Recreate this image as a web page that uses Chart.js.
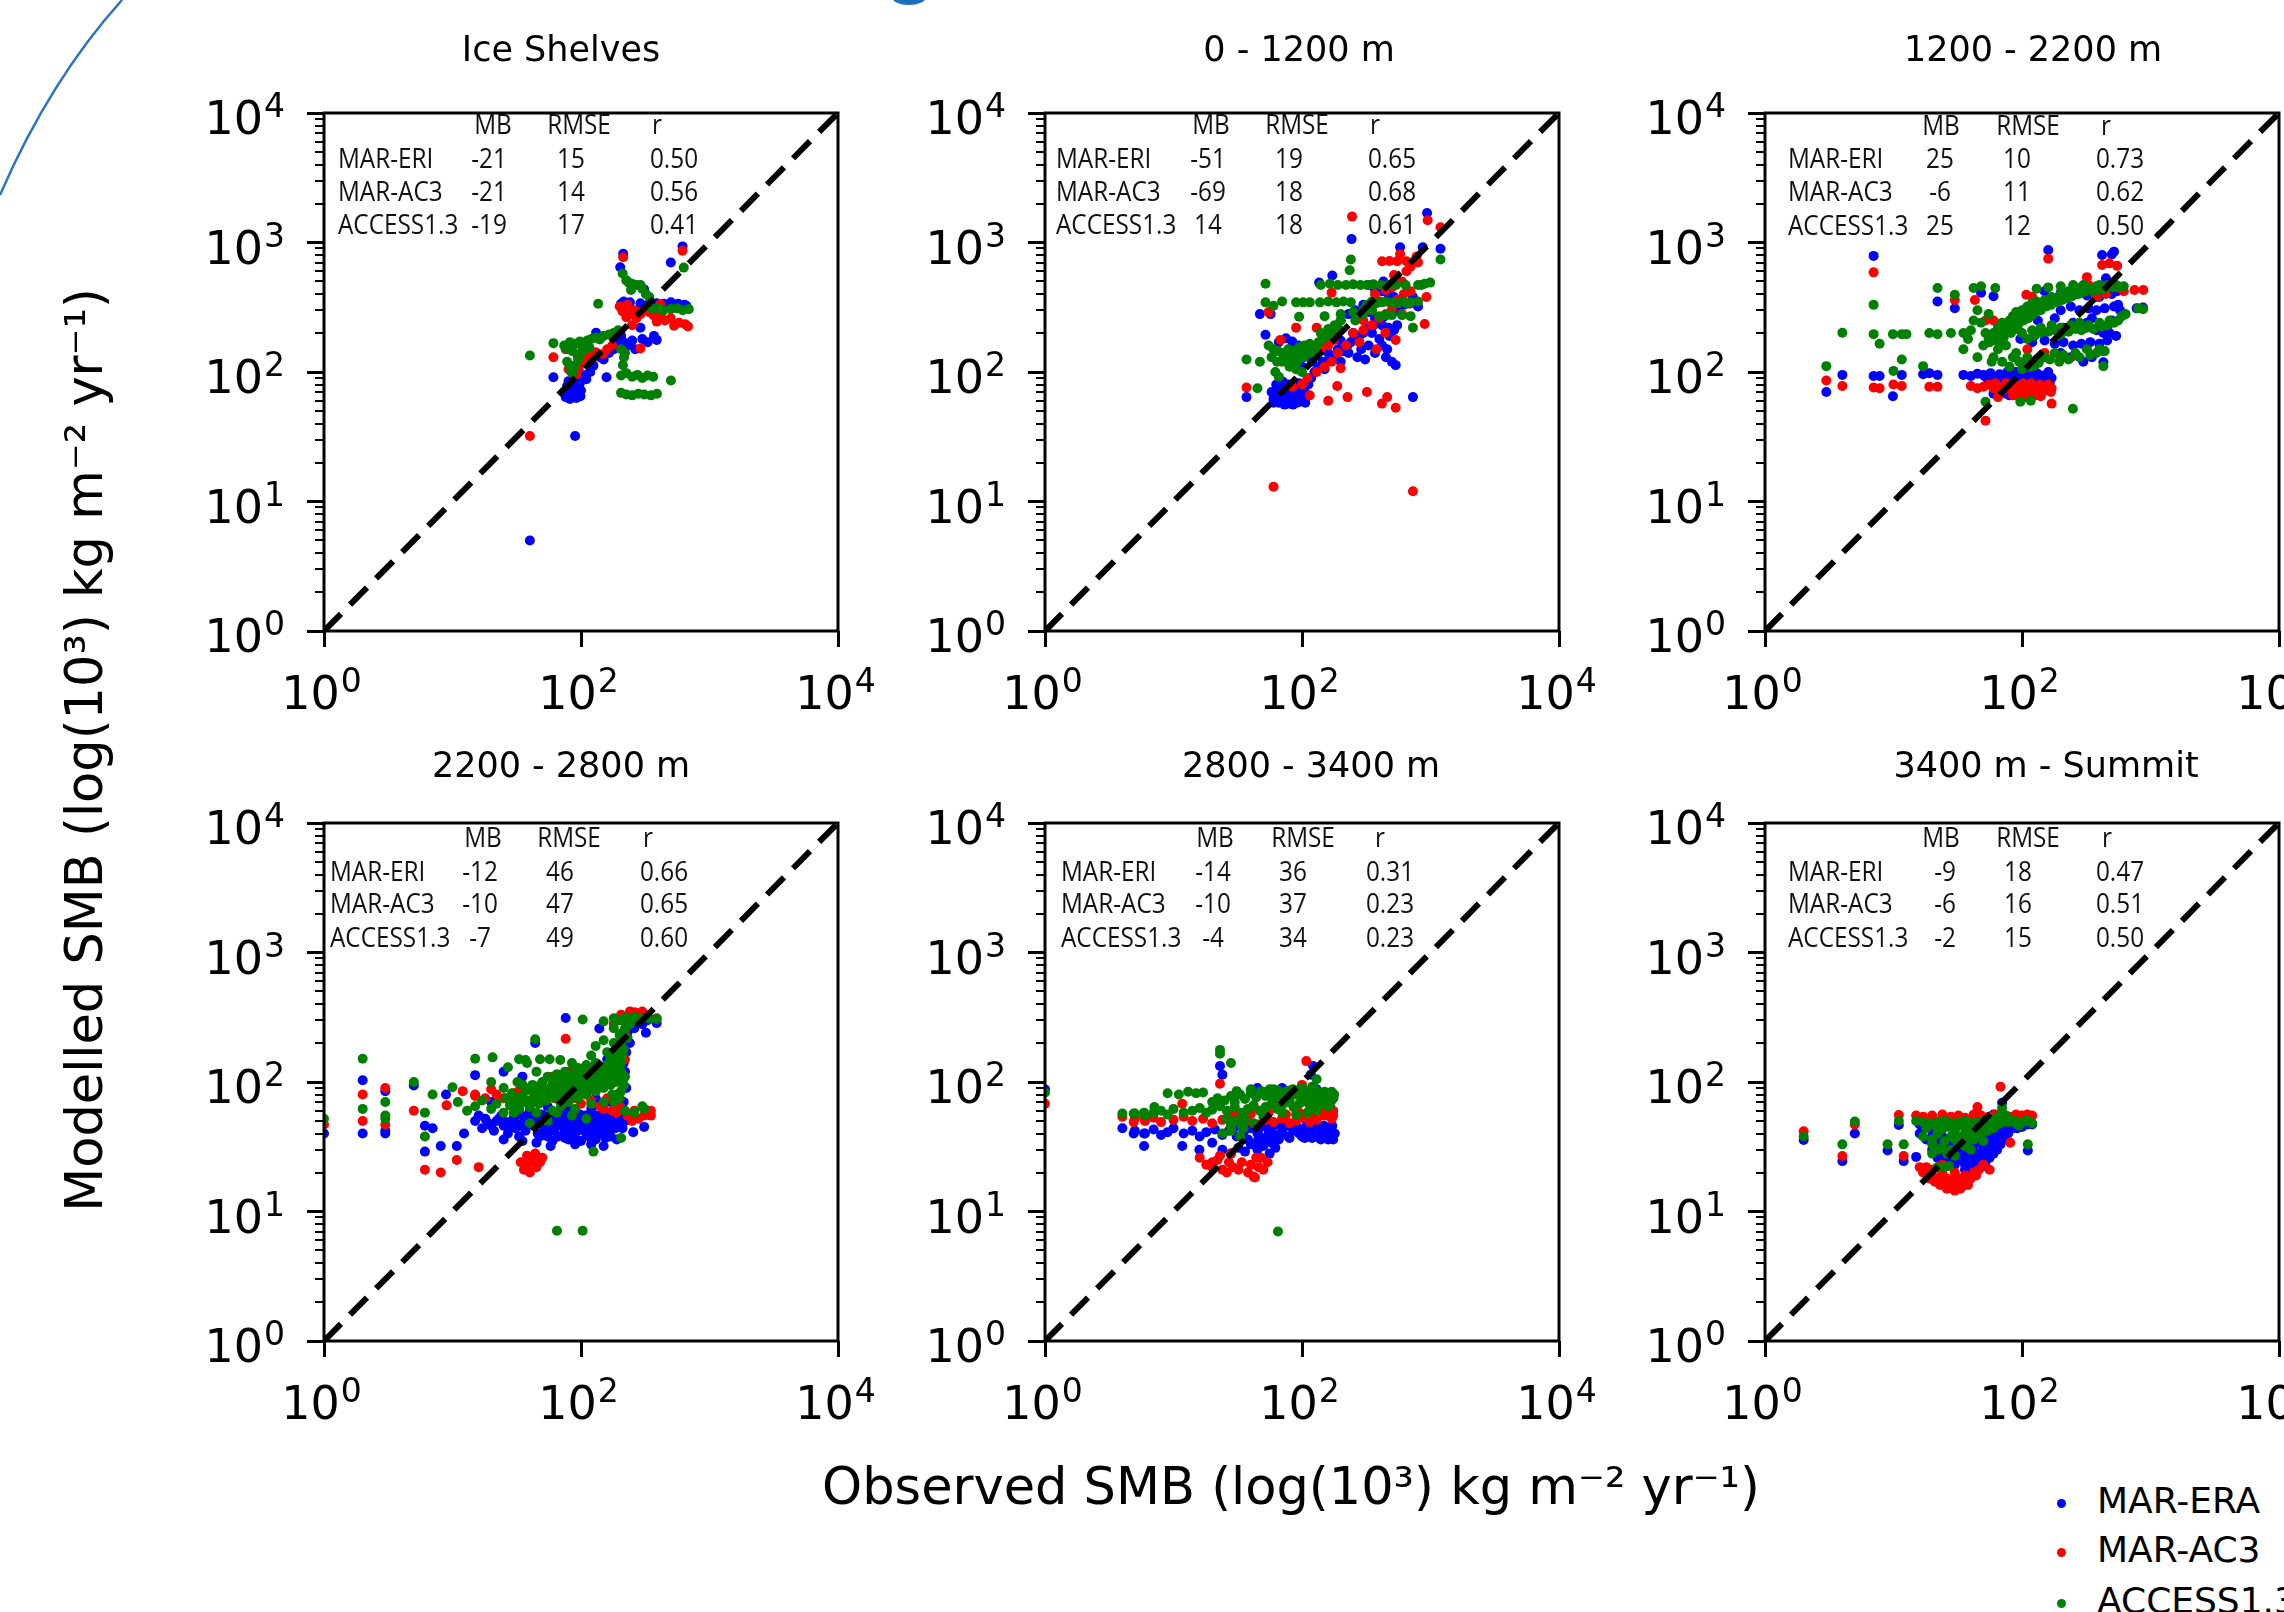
<!DOCTYPE html>
<html>
<head>
<meta charset="utf-8">
<script src="https://cdn.jsdelivr.net/npm/chart.js@4.4.1/dist/chart.umd.min.js"></script>
<style>
  body { margin: 0; width: 2284px; height: 1612px; overflow: hidden; background: #fff; position: relative; font-family: 'DejaVu Sans', sans-serif; }
  canvas { position: absolute; }
  #deco { position: absolute; left: 0; top: 0; }
  .axis-title { position: absolute; white-space: nowrap; font-size: 51px; color: #000; }
  #ytitle { left: 84px; top: 750px; transform: translate(-50%, -50%) rotate(-90deg); }
  #xtitle { left: 1291px; top: 1486px; transform: translate(-50%, -50%); }
  .leg { position: absolute; left: 2057px; font-size: 36px; white-space: nowrap; line-height: 40px; }
  .leg span { display: inline-block; width: 9px; height: 9px; border-radius: 50%; margin-right: 31px; vertical-align: middle; }
</style>
</head>
<body>
<svg id="deco" width="2284" height="1612">
  <path d="M122,0 Q50,80 0,195" stroke="#2a74c5" stroke-width="2.5" fill="none"/>
  <ellipse cx="909" cy="-3" rx="17" ry="8" fill="#1a6fc0"/>
</svg>
<div class="axis-title" id="ytitle">Modelled SMB (log(10³) kg m⁻² yr⁻¹)</div>
<div class="axis-title" id="xtitle">Observed SMB (log(10³) kg m⁻² yr⁻¹)</div>
<div id="legend"></div>

<canvas id="p0"></canvas>
<canvas id="p1"></canvas>
<canvas id="p2"></canvas>
<canvas id="p3"></canvas>
<canvas id="p4"></canvas>
<canvas id="p5"></canvas>

<script>
// ---- data (observed, modelled) ----
const seriesNames = ['MAR-ERA', 'MAR-AC3', 'ACCESS1.3'];
const seriesColors = ['#0000ff', '#ff0000', '#008000'];
const panelTitles = ['Ice Shelves', '0 - 1200 m', '1200 - 2200 m', '2200 - 2800 m', '2800 - 3400 m', '3400 m - Summit'];
const xTickValues = [1, 100, 10000];
const yTickValues = [1, 10, 100, 1000, 10000];

const statModels = ['MAR-ERI', 'MAR-AC3', 'ACCESS1.3'];
const statMB = [[-21, -21, -19], [-51, -69, 14], [25, -6, 25], [-12, -10, -7], [-14, -10, -4], [-9, -6, -2]];
const statRMSE = [[15, 14, 17], [19, 18, 18], [10, 11, 12], [46, 47, 49], [36, 37, 34], [18, 16, 15]];
const statR = [['0.50', '0.56', '0.41'], ['0.65', '0.68', '0.61'], ['0.73', '0.62', '0.50'],
               ['0.66', '0.65', '0.60'], ['0.31', '0.23', '0.23'], ['0.47', '0.51', '0.50']];

const iceShelvesEra = [[40,5],[90,32],[61,91],[158,91],
  [74,70],[76,64],[78,78],[80,68],[82,62],[84,74],[86,66],[88,80],[90,70],[92,63],[94,76],[96,68],[98,82],[100,72],[80,85],[88,90],[96,88],[104,95],[110,88],[118,100],[125,112],
  [77,72],[83,70],[91,66],[95,73],[87,72],[79,65],[99,65],
  [131,201],[140,130],[150,125],[165,140],[180,150],[195,165],[205,190],[215,170],[233,160],[250,175],[264,150],[290,220],[300,180],[330,170],[370,190],[388,177],
  [205,337],[215,350],[240,345],[264,297],[290,340],[310,436],[341,337],[388,340],[441,337],[501,345],[570,337],[640,330],[660,325],
  [202,645],[213,820],[500,700],[617,933]];
const iceShelvesAc3 = [[40,32],[61,130],[76,150],[80,105],[84,100],[88,112],[92,96],[96,108],[100,120],[104,135],[110,130],[118,138],[130,142],[148,138],[160,150],[175,160],
  [210,295],[225,265],[240,280],[260,300],[290,280],[320,300],[366,275],[388,245],[414,334],[450,250],[500,260],[530,228],[580,240],[647,234],[680,225],
  [290,152],[250,230],[213,770],[617,864],[230,330],[200,320],[270,260],[340,290],[420,270]];
const iceShelvesAccess = [[40,134],[61,167],[74,160],[78,150],[82,170],[86,145],[90,165],[94,135],[98,172],[102,158],[106,168],[112,175],[120,180],[130,185],[140,178],[150,190],[165,195],[180,200],[195,210],
  [78,120],[82,108],[86,98],[90,112],[95,125],[100,140],[108,150],[116,155],
  [136,337],[205,150],[212,113],[216,130],[220,140],
  [205,94],[225,98],[250,92],[275,95],[300,90],[330,94],[365,92],[501,86],
  [205,69],[225,67],[250,66],[280,68],[310,67],[350,66],[390,68],
  [211,576],[225,510],[235,490],[250,480],[270,470],[290,470],[300,440],[245,430],[320,400],[340,380],
  [360,306],[400,312],[440,300],[500,306],[560,310],[620,300],[690,306],[630,640]];

const lowEra = [[37,64],[47,280],[57,280],[52,194],
  [58,70],[60,62],[63,66],[66,58],[69,72],[72,63],[75,68],[78,57],[81,65],[84,60],[88,70],[92,58],[96,66],[100,62],[104,72],[108,64],[66,76],[74,78],[86,75],
  [60,58],[62,68],[64,74],[67,61],[70,66],[73,56],[76,72],[79,62],[82,70],[85,56],[87,64],[90,74],[93,66],[97,60],[99,76],[102,68],[106,58],[63,80],[71,84],[79,80],[95,82],[112,80],
  [66,170],[75,182],[84,172],[94,160],[104,150],[80,150],[90,140],[110,135],[120,120],[100,110],
  [118,90],[125,100],[135,110],[145,120],[150,105],[165,125],[190,150],[210,145],[240,170],[250,200],[280,190],[300,200],[320,220],[360,230],[400,250],[440,270],[500,280],[560,300],[620,330],[550,230],[480,190],[420,160],[450,130],[500,120],
  [138,170],[156,190],[177,205],[200,175],[226,160],[255,180],[289,150],[160,140],[180,130],[200,120],[230,140],[270,130],[310,125],[330,160],[370,140],
  [172,556],[136,490],[200,250],[230,280],[260,300],[300,330],[330,290],[370,260],[420,230],[470,220],[520,210],[350,200],[400,180],[460,150],[536,113],
  [370,430],[420,420],[470,400],[520,380],[600,360],[700,340],[800,320],[730,380],[330,470],[430,500],
  [730,64],[243,1062],[580,920],[870,920],[940,1690],[1196,895]];
const lowAc3 = [[245,1585],[950,1487],[1196,1310],[580,813],[420,716],[480,720],[550,716],[650,716],[780,780],[930,380],[900,235],
  [37,76],[60,13],[730,12],[160,60],[226,64],[320,70],[419,57],[460,64],[536,53],[84,77],[115,66],[188,78],[200,107],
  [90,220],[130,220],[68,177],[177,177],[445,201],[536,177],[170,410],[370,400],[686,337],[55,290],
  [140,150],[160,160],[250,200],[300,250],[350,300],[400,350],[500,300],[600,280],[280,170],[380,150],
  [100,80],[110,90],[130,100],[150,110],[170,120],[190,140],[220,160],[300,210],[350,230],[400,260],[450,280],[500,330],[550,360],[620,400],[700,420],[600,500],[520,560],[650,600],[700,650],[800,700],[500,450],[450,430]];
const lowAccess = [[37,125],[47,120],[52,480],[52,345],[60,325],[70,350],[90,345],[102,345],[115,345],[95,267],
  [140,470],[165,480],[190,470],[220,470],[250,475],[285,470],[320,470],[360,475],[410,470],[470,470],[540,470],[640,470],[800,470],[850,470],[900,480],
  [138,345],[160,350],[185,345],[210,350],[240,345],[300,300],[320,330],[350,350],[380,340],[420,345],[450,350],[500,345],[560,340],[610,350],[650,340],[700,345],[800,350],
  [240,739],[235,610],[1196,739],[994,490],
  [150,270],[200,280],[250,290],[300,280],[350,300],[400,270],[450,275],[500,275],[600,275],[700,270],[730,220],[260,250],
  [55,160],[60,150],[65,145],[70,140],[78,150],[85,145],[95,155],[105,160],[115,165],[125,150],[70,120],[80,110],[90,105],[100,100],[62,100],[66,92],[45,75],
  [58,130],[64,120],[72,128],[76,138],[82,125],[88,132],[92,120],[98,140],[104,130],[110,145],[118,140],[128,155],[135,170],[145,180],[155,190],[165,200],[175,210],[190,220],
  [140,200],[160,215],[180,230],[200,250]];

const midEra = [[3,70],[4,95],[7,788],[7,93],[7.8,93],[9.9,65],[11.6,95],[17,96],[19,98],[22,95],[30,311],[22,350],
  [35,95],[40,93],[45,97],[50,95],
  [55,85],[60,90],[65,80],[70,75],[75,85],[80,95],[90,90],[100,88],[110,85],[120,90],[135,80],[150,88],[170,90],[60,68],[70,70],[80,66],[100,68],[120,66],[140,68],[90,100],[110,102],[130,98],[160,100],
  [52,92],[57,98],[62,88],[67,96],[72,90],[77,100],[83,86],[88,95],[94,82],[98,92],[104,98],[112,92],[118,80],[125,96],[132,88],[140,94],[148,84],[158,96],[165,84],[65,72],[75,68],[85,74],[95,70],[110,72],[130,70],[150,76],[165,72],
  [48,410],[60,385],
  [97,180],[120,170],[150,175],[180,165],[210,170],[250,160],[290,165],[340,170],[400,165],[460,175],
  [133,250],[180,260],[250,240],[350,260],[500,250],
  [150,420],[200,410],[260,400],[320,390],[400,380],[500,400],[550,420],
  [200,300],[240,320],[280,300],[330,310],[380,300],[440,310],[520,320],[560,330],[210,220],[260,230],[320,240],[380,210],[430,200],[480,200],[540,190],[200,140],[240,130],[300,120],[350,130],
  [160,874],[420,800],[500,810],[520,850],[450,530],[580,300],[780,310],[875,315],[430,119],[467,230]];
const midAc3 = [[3,86],[4,78],[7,588],[7,76],[7.8,75],[10,80],[11.6,78],[19,77],[22,77],[30,360],[43,360],[52,250],[60,250],[52,42],[170,57],
  [60,75],[70,72],[80,78],[90,72],[100,75],[115,70],[130,78],[150,72],[170,75],[65,64],[85,66],[105,64],[125,66],[145,70],[40,78],[45,75],[50,77],
  [55,80],[62,82],[68,76],[75,82],[82,74],[88,80],[95,78],[102,82],[110,76],[118,82],[125,74],[138,80],[145,76],[160,80],[168,70],[90,66],[110,68],[140,65],
  [108,395],[160,750],[320,540],[420,670],[480,690],[550,660],[750,430],[880,430],[430,145],
  [120,380],[180,350],[240,410],[300,420],[380,380],[450,400],[110,150],[150,140],[200,130],[260,135],
  [200,400],[260,450],[330,470],[400,460],[480,470],[550,450],[600,440],[620,420]];
const midAccess = [[3,111],[4,201],[7,330],[7,196],[7.8,165],[9.9,196],[11.6,196],[12.6,196],[10,102],[11.6,125],[17,111],[19,200],[22,196],[22,445],[28,200],[30,395],[35,200],[42,445],[48,460],[62,445],[48,240],[52,59],[97,59],[117,60],[249,52],[430,111],[800,310],[875,305],
  [35,150],[38,180],[40,210],[42,250],[45,130],[50,160],[52,200],[55,280],[45,300],[58,120],
  [55,180],[60,200],[65,220],[70,240],[75,160],[80,250],[85,270],[90,290],[100,300],[110,320],[120,340],[130,350],[150,360],[170,380],[200,400],[230,420],[270,440],[320,450],[380,460],[450,460],[520,450],[130,440],[160,450],[200,460],[250,470],[300,470],[400,470],
  [56,170],[58,190],[62,175],[66,195],[68,210],[72,185],[76,205],[78,225],[82,200],[86,230],[88,250],[92,215],[95,240],[98,265],[103,250],[106,280],[112,260],[115,295],[120,275],[125,310],[128,290],[135,320],[140,300],[145,335],[155,320],[160,345],[168,330],[175,360],[185,345],[190,375],[205,360],[215,390],[225,370],[235,405],[245,385],[260,420],[275,400],[290,430],[305,415],[330,435],[350,420],[370,445],[395,430],[420,455],[440,440],[470,470],[500,460],[540,470],[580,455],[620,460],
  [110,180],[125,190],[140,200],[160,205],[180,210],[200,195],[230,205],[260,215],[290,210],[320,220],[360,215],[420,225],[460,230],[520,240],[560,250],[600,270],[640,280],
  [85,130],[95,120],[105,115],[115,110],[125,112],[135,118],[165,125],[195,120],[230,125],[280,130],[340,135],[380,140],[440,145],
  [100,200],[120,210],[140,220],[170,230],[200,220],[240,230],[280,240],[330,230],[400,240],[480,250],[90,140],[110,130],[130,125],[150,130],[180,140],[210,135],[260,140],[320,150],[400,150],[70,120],[80,110],[100,105],[60,130],[65,150],[70,170]];

const highEra = [[1,40],[2,103],[2,40],[3,85],[3,40],[3,42],[5,94],[6.1,46],[6.1,29],[7,44],[8.1,32],[8.9,80],[10.8,32],[12.3,40],[15,113],
  [15,50],[17,44],[19,48],[21,42],[23,52],[25,46],[27,40],[29,50],[31,44],[33,38],[35,48],[37,42],[40,52],[43,46],[46,40],[49,50],[52,44],[55,38],[58,48],[62,42],[66,52],[70,46],[74,40],[78,50],[82,44],[86,38],[90,48],[95,42],[100,52],[105,46],[110,40],[116,50],[122,44],[128,38],[135,48],[142,42],[150,52],[158,46],[166,40],[175,48],[185,44],[35,35],[45,34],[60,35],[80,36],[100,35],[130,36],[155,37],[25,36],[310,45],[255,41],[210,48],[230,52],
  [16,55],[18,52],[20,46],[22,50],[24,55],[26,49],[28,45],[30,53],[32,47],[34,56],[36,45],[39,55],[41,49],[44,55],[47,48],[50,56],[53,48],[57,55],[60,46],[64,55],[68,50],[72,56],[76,45],[80,55],[84,50],[88,56],[92,45],[98,56],[103,49],[108,55],[113,46],[119,56],[125,49],[132,55],[139,46],[146,56],[154,49],[162,55],[170,45],[180,54],[190,50],[200,56],[210,44],[220,50],
  [48,38],[55,40],[66,38],[75,37],[92,36],[115,38],[140,40],[170,38],[190,36],[58,32],[90,33],[120,33],[150,32],
  [205,60],[215,70],[225,90],[220,120],[215,140],[225,170],[240,200],[300,280],[330,300],
  [20,70],[30,80],[40,90],[50,75],[60,85],[70,95],[90,80],[110,90],[130,75],[150,100],[40,60],[55,65],[80,60],[120,62],[170,70],[190,105],[200,120],[180,140],[160,150],[210,200],[230,240],[260,260],[320,240],[388,285],[76,312],[44,200],[139,259],[35,110],[25,120],[205,155]];
const highAc3 = [[1,47],[2,80],[2,50],[3,90],[3,47],[5,60],[6.1,21],[8.1,20],[9,66],[10.8,25],[15,78],[16,22],
  [34,24],[36,21],[38,23],[40,20],[42,25],[45,22],[48,24],[50,26],[44,28],[38,27],
  [76,216],[12,85],[15,80],[20,88],[25,75],[30,82],[35,70],[45,78],[55,85],[70,80],[90,75],[110,80],[130,85],[160,75],[200,65],[260,60],[310,62],[350,55],[310,55],[250,50],
  [18,75],[22,80],[28,70],[33,86],[40,72],[50,82],[62,75],[75,70],[85,82],[100,68],[120,72],[140,65],[150,62],[175,60],[190,58],[230,55],[280,52],[320,58],[350,60],[40,90],[60,95],[210,300],[300,350],[260,345],[220,250],
  [205,330],[240,350],[280,340],[320,330],[388,310],[96,78],[60,110],[80,120],[100,105],[140,110],[180,100],[220,150],[180,280]];
const highAccess = [[1,52],[2,151],[2,62],[3,70],[3,55],[3,52],[5,100],[6.1,58],[6.1,38],[7,80],[10,91],[15,151],[20.5,155],[33,150],[37,148],[44,214],[57,150],[69,148],[103,304],[150,294],[180,310],[220,315],[260,318],[300,312],[340,310],[388,306],[310,62],[125,29],[205,37],[65,7.1],[103,7.1],
  [11,70],[13,60],[15,65],[17,72],[20,62],[22,68],[25,58],[28,66],[30,74],[33,62],[36,70],[40,64],[43,76],[47,68],[50,80],[54,72],[58,84],[62,76],[66,90],[70,80],[75,95],[80,85],[85,100],[90,90],[95,105],[100,95],[105,110],[110,100],[118,115],[125,105],[132,120],[140,110],[150,125],[160,115],[170,130],[180,120],[190,140],[200,100],
  [26,75],[29,82],[32,68],[35,78],[38,86],[41,72],[44,82],[46,92],[49,75],[52,88],[56,78],[59,92],[63,82],[65,100],[68,72],[72,88],[74,105],[77,78],[82,92],[84,112],[88,80],[92,98],[97,85],[98,118],[102,88],[108,92],[112,120],[115,90],[120,98],[125,128],[128,94],[135,100],[138,130],[145,95],[148,108],[155,100],[158,135],[165,105],[172,110],[178,145],[185,100],[195,115],[198,130],[205,120],[210,105],[215,95],
  [170,150],[190,160],[130,140],[110,135],[95,128],[80,110],[65,115],[50,100],[42,95],[32,100],[30,58],[45,58],[65,58],[90,62],[120,68],[150,70],[175,80],[200,75],[205,140],[210,160],[215,180],[205,200],[230,220],[210,240],[250,300],[200,300],[230,300],[280,300],
  [60,60],[70,65],[80,70],[95,75],[110,80],[130,85],[150,90],[170,95],[190,80],[75,120],[90,130],[105,125],[60,100],[55,110],[45,120],[35,95],[25,90],[20,100],[27,130],[38,140],[48,150],[85,140],[120,160],[160,170],[180,200],[200,230],[220,260],[240,280],[180,260],[150,210],[130,190],[200,170],[220,110],[205,85],[180,70],[220,60],[260,58],[300,65],[40,48],[55,50],[85,55],[110,52]];

const upperEra = [[1,88],[4,44],[4.9,40],[5.9,32],[5.9,40],[11.7,32],[15.9,30],[23,133],[24,114],[45,90],[122,133],[117,114],
  [5,42],[6,40],[7,43],[8,39],[9,41],[10,44],[12,40],[14,42],[16,38],[18,41],[21,43],[24,39],[27,42],[31,38],[35,41],[40,44],[45,40],[50,37],[55,42],[62,39],[70,41],[78,38],[86,42],[95,40],[105,37],[115,41],[125,39],[140,40],[155,38],[170,40],[175,36],
  [30,45],[34,46],[38,44],[42,47],[46,43],[52,46],[58,44],[64,47],[70,44],[76,47],[82,45],[90,46],[98,43],[108,46],[118,44],[128,47],[138,43],[148,46],[160,44],[172,46],[178,40],[66,36],[80,37],[100,38],[120,37],[140,36],[160,36],[180,40],[55,36],[45,35],[58,34],[38,36],
  [20,34],[24,30],[28,28],[32,31],[36,29],[40,33],[45,30],[50,32],[56,28],[62,31],
  [55,85],[70,90],[90,86],[110,84],[130,88],[170,80],[175,75]];
const upperAc3 = [[1,68],[4,54],[4.9,49],[5.9,54],[11.7,68],
  [5,52],[6,50],[7,53],[8,49],[10,51],[12,54],[14,50],[17,52],[20,48],[24,51],[28,49],[33,53],[38,50],[45,47],[52,51],[60,49],[70,52],[80,48],[90,50],[100,53],[115,49],[130,51],[150,55],[170,52],[175,60],
  [30,56],[40,57],[55,58],[75,56],[95,58],[120,57],[140,60],[160,58],[175,55],
  [23,97],[108,145],[100,95],
  [16,26],[18,23],[20,22],[22,25],[24,21],[26,20],[29,22],[32,21],[38,20],[42,18.6],[46,22],[50,21],[54,24],[44,26],[28,28],[43,18.3],[20,24],[23,27],[27,24],[34,24],[40,23],[48,26]];
const upperAccess = [[1,83],[4,57],[4.9,57],[5.9,58],[7.1,64],[9,82],[11,80],[13,84],[15,82],[17,83],[23,177],[23,165],[28,140],[65,7],
  [5,57],[6,55],[7,58],[8,60],[9,56],[10,62],[12,58],[14,60],[16,63],[18,58],[20,61],[23,65],[26,60],[30,64],[34,58],[38,62],[42,66],[47,60],[52,64],[58,68],[64,62],[70,66],[78,70],[86,64],[95,68],[105,72],[115,66],[125,70],[140,74],[155,68],[170,72],[178,80],[160,65],[130,60],[110,58],[90,56],[70,58],[50,54],
  [20,70],[22,75],[25,72],[28,78],[30,70],[33,80],[36,74],[40,82],[44,76],[48,85],[52,78],[56,88],[60,80],[65,86],[70,76],[75,84],[80,78],[85,88],[90,80],[95,86],[100,78],[110,84],[120,80],[130,86],[140,80],[150,84],[160,78],[170,84],[175,76],[60,72],[80,72],[100,70],[120,74],[145,68],[165,66],[26,52],[30,50],[36,52],[42,48],[28,46],[34,46],
  [24,40],[28,42],[33,38],[35,44],[130,105],
  [31,85],[40,88],[50,84],[60,88],[70,82],[80,86],[100,90],[120,92]];

const summitEra = [[2,35.6],[4,24.5],[5,40],[9,29.6],[11,46.5],[12,24.5],[15,26.4],[111,29.6],[70,69],
  [16,47],[18,45],[20,42],[22,40],[24,38],[26,36],[28,34],[30,32],[33,30],[36,28],[40,26],[44,24],[48,22],[52,24],[56,26],[60,28],[64,30],[68,33],[72,36],[78,40],[85,44],[92,47],[100,48],[110,47],
  [16,40],[18,36],[20,38],[22,34],[24,32],[26,30],[28,28],[30,26],[33,26],[36,25],[40,24],[44,26],[48,28],[52,30],[56,32],[60,34],[64,38],[68,40],[72,42],[78,44],[85,46],[92,44],[100,45],
  [30,30],[34,32],[38,30],[42,32],[46,34],[50,36],[54,38],[58,40],[62,42],[44,22],[48,24],[52,27],[56,29],[62,46],[68,48],[75,50],[22,26],[26,24],[30,23],[36,21],
  [20,30],[23,27],[25,25],[28,23],[32,25],[36,23],[40,22],[45,28],[50,30],[55,33],[60,36],[65,40],[70,43],[75,46],[120,47],[60,56],[50,50],[40,45]];
const summitAc3 = [[2,41.6],[4,26.8],[5,47],[11,55.5],[12,26.8],
  [15,55],[17,54],[20,55],[24,56],[28,54],[32,55],[36,53],[42,56],[48,55],[55,54],[62,56],[70,55],[80,54],[90,56],[100,55],[110,56],[120,55],
  [68,92],[45,64],
  [17,20],[19,18],[21,17],[23,16],[25,17.5],[27,16],[29,15],[31,16.5],[33,15],[35,16],[37,17.5],[40,18],[44,19],[30,18],[24,19],[20,21],[56,21],[81,34],
  [18,22],[20,19],[22,18],[24,20],[26,18],[28,17],[30,20],[32,18],[34,17],[36,19],[38,16],[42,20],[46,21],[50,23],[26,15],[30,14.5],[34,15.5],[16,22],[24,23]];
const summitAccess = [[2,38],[4,33],[5,49.5],[9,33],[12,33],[11,50],[111,33],[70,63],
  [15,50],[17,49],[19,48],[22,49],[25,50],[28,48],[32,49],[36,50],[40,48],[45,49],[50,50],[56,48],[62,49],[70,50],[78,49],[88,50],[100,49],[112,50],[120,48],
  [18,44],[21,46],[24,43],[27,45],[30,44],[34,46],[38,44],[42,46],[46,44],[50,46],[54,42],[58,50],[62,52],[66,54],[70,52],[75,55],[82,50],[90,48],[95,46],[105,50],[30,36],[34,38],[38,35],[42,36],[46,38],[50,35],[22,30],[26,28],[30,27],[20,28],[40,30],
  [17,38],[20,36],[22,40],[25,35],[28,38],[30,42],[33,36],[36,40],[40,38],[44,42],[48,40],[52,44],[56,46],[60,44],[64,47],[68,48],[20,33],[24,31],[28,30],[32,33],[36,32],
  [22,22],[25,22],[27,22.5]];

const panelSeries = [
  [iceShelvesEra, iceShelvesAc3, iceShelvesAccess],
  [lowEra, lowAc3, lowAccess],
  [midEra, midAc3, midAccess],
  [highEra, highAc3, highAccess],
  [upperEra, upperAc3, upperAccess],
  [summitEra, summitAc3, summitAccess]
];

// ---- layout ----
const plotLeft = [324, 1045, 1765];
const plotTop = [113, 823];
const plotW = 514, plotH = 518;
const padL = 140, padT = 100, padR = 60, padB = 90;
const titleDX = [237, 254, 268, 237, 266, 281];
const titleDY = [61, 61, 61, 55, 55, 55];
// name, MB head, MB, RMSE head, RMSE, r head, r
const statCols = [
  [14, 169, 165, 255, 247, 333, 350],
  [11, 166, 163, 252, 244, 330, 347],
  [23, 176, 175, 263, 252, 341, 355],
  [6, 159, 156, 245, 236, 324, 340],
  [16, 170, 168, 258, 248, 335, 345],
  [23, 176, 180, 263, 253, 342, 355]
];
const statRows = [[13, 47, 80, 113], [13, 47, 80, 113], [14, 47, 80, 114],
                  [16, 50, 82, 116], [16, 50, 82, 116], [16, 50, 82, 116]];

// "10" with a raised exponent, like matplotlib mathtext
function drawPow(ctx, exp, x, y, align) {
  ctx.font = '46px "DejaVu Sans"';
  const wb = ctx.measureText('10').width;
  ctx.font = '33px "DejaVu Sans"';
  const we = ctx.measureText(String(exp)).width;
  const left = align === 'right' ? x - wb - we : x - (wb + we) / 2;
  ctx.textAlign = 'left';
  ctx.textBaseline = 'alphabetic';
  ctx.font = '46px "DejaVu Sans"';
  ctx.fillText('10', left, y);
  ctx.font = '33px "DejaVu Sans"';
  ctx.fillText(String(exp), left + wb + 1, y - 17);
}

// narrow table text (the original uses a condensed face)
function narrowText(ctx, text, x, y, align) {
  ctx.save();
  ctx.translate(x, y);
  ctx.scale(0.9, 1);
  ctx.textAlign = align;
  ctx.fillText(text, 0, 0);
  ctx.restore();
}

const panelDecor = {
  id: 'panelDecor',
  afterDraw(chart, args, opts) {
    const ctx = chart.ctx;
    const a = chart.chartArea;
    const xs = chart.scales.x, ys = chart.scales.y;
    const i = opts.index;
    ctx.save();
    ctx.strokeStyle = '#000';
    // minor ticks on the log y axis
    ctx.lineWidth = 2;
    for (let d = 0; d < 4; d++) {
      for (let k = 2; k < 10; k++) {
        const y = Math.round(ys.getPixelForValue(k * Math.pow(10, d)));
        ctx.beginPath();
        ctx.moveTo(a.left - 9, y);
        ctx.lineTo(a.left, y);
        ctx.stroke();
      }
    }
    ctx.lineWidth = 3;
    ctx.strokeRect(a.left, a.top, a.right - a.left, a.bottom - a.top);

    ctx.fillStyle = '#000';
    yTickValues.forEach(v => drawPow(ctx, Math.round(Math.log10(v)), a.left - 40, ys.getPixelForValue(v) + 21, 'right'));
    xTickValues.forEach(v => drawPow(ctx, Math.round(Math.log10(v)), xs.getPixelForValue(v) - 3, a.bottom + 78, 'center'));

    ctx.textBaseline = 'middle';
    ctx.textAlign = 'center';
    ctx.font = '35px "DejaVu Sans"';
    ctx.fillText(panelTitles[i], a.left + titleDX[i], a.top - titleDY[i]);

    // stats table
    const c = statCols[i], r = statRows[i];
    ctx.font = '27px "Open Sans"';
    ctx.fillStyle = '#111';
    narrowText(ctx, 'MB', a.left + c[1], a.top + r[0], 'center');
    narrowText(ctx, 'RMSE', a.left + c[3], a.top + r[0], 'center');
    narrowText(ctx, 'r', a.left + c[5], a.top + r[0], 'center');
    for (let m = 0; m < 3; m++) {
      const y = a.top + r[m + 1];
      narrowText(ctx, statModels[m], a.left + c[0], y, 'left');
      narrowText(ctx, String(statMB[i][m]), a.left + c[2], y, 'center');
      narrowText(ctx, String(statRMSE[i][m]), a.left + c[4], y, 'center');
      narrowText(ctx, statR[i][m], a.left + c[6], y, 'center');
    }
    ctx.restore();
  }
};

function makePanel(i) {
  const canvas = document.getElementById('p' + i);
  const L = plotLeft[i % 3], T = plotTop[Math.floor(i / 3)];
  canvas.width = plotW + padL + padR;
  canvas.height = plotH + padT + padB;
  canvas.style.left = (L - padL) + 'px';
  canvas.style.top = (T - padT) + 'px';

  const datasets = panelSeries[i].map((pts, s) => ({
    label: seriesNames[s],
    data: pts.map(p => ({ x: p[0], y: p[1] })),
    backgroundColor: seriesColors[s],
    borderWidth: 0,
    pointRadius: 5,
    order: 3 - s,
    clip: 0
  }));
  datasets.push({
    label: '1:1',
    data: [{ x: 1, y: 1 }, { x: 10000, y: 10000 }],
    showLine: true,
    borderColor: '#000',
    borderWidth: 6,
    borderDash: [24, 13],
    pointRadius: 0,
    order: 0,
    clip: 0
  });

  new Chart(canvas.getContext('2d'), {
    type: 'scatter',
    data: { datasets: datasets },
    plugins: [panelDecor],
    options: {
      responsive: false,
      animation: false,
      events: [],
      layout: { padding: { left: 0, top: padT, right: padR, bottom: 0 } },
      plugins: {
        legend: { display: false },
        tooltip: { enabled: false },
        panelDecor: { index: i }
      },
      scales: {
        x: {
          type: 'logarithmic', min: 1, max: 10000,
          afterBuildTicks: s => { s.ticks = xTickValues.map(v => ({ value: v })); },
          afterFit: s => { s.height = padB; },
          ticks: { display: false },
          grid: { drawOnChartArea: false, tickLength: 16, tickWidth: 3, tickColor: '#000' },
          border: { display: false }
        },
        y: {
          type: 'logarithmic', min: 1, max: 10000,
          afterBuildTicks: s => { s.ticks = yTickValues.map(v => ({ value: v })); },
          afterFit: s => { s.width = padL; },
          ticks: { display: false },
          grid: { drawOnChartArea: false, tickLength: 17, tickWidth: 3, tickColor: '#000' },
          border: { display: false }
        }
      }
    }
  });
}

for (let i = 0; i < 6; i++) makePanel(i);

// legend, bottom right
const legendTops = [1481, 1530, 1581];
const legend = document.getElementById('legend');
seriesNames.forEach((name, s) => {
  const row = document.createElement('div');
  row.className = 'leg';
  row.style.top = legendTops[s] + 'px';
  row.innerHTML = '<span style="background:' + seriesColors[s] + '"></span>' + name;
  legend.appendChild(row);
});
</script>
</body>
</html>
